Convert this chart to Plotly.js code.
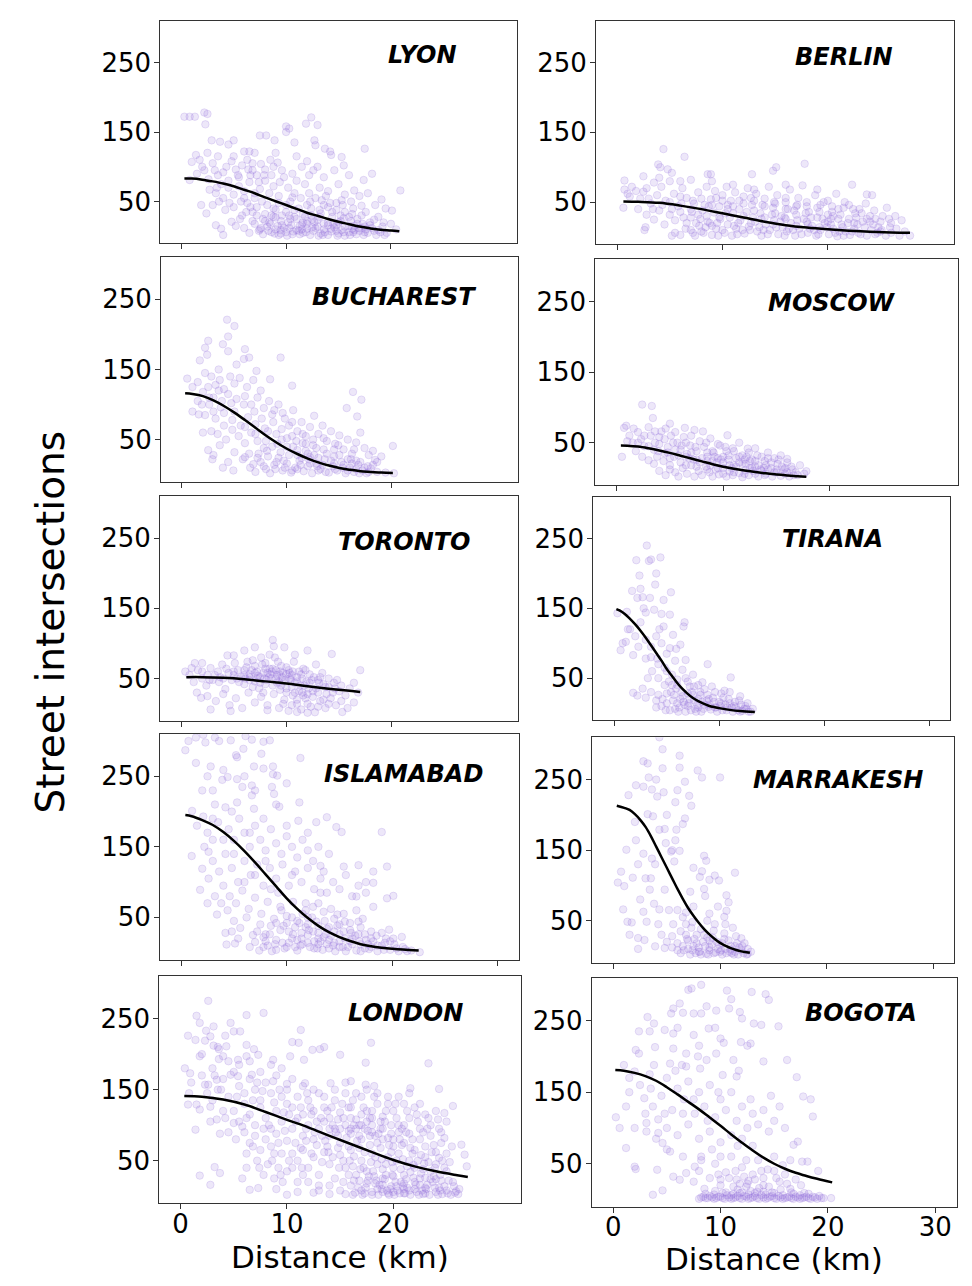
<!DOCTYPE html>
<html><head><meta charset="utf-8">
<script src="https://cdn.plot.ly/plotly-3.0.1.min.js"></script>
<style>html,body{margin:0;padding:0;background:#fff}#chart{width:972px;height:1286px}</style>
</head><body><div id="chart"></div>
<script>
// ---- data ----
const cityNames = ["LYON","BERLIN","BUCHAREST","MOSCOW","TORONTO","TIRANA","ISLAMABAD","MARRAKESH","LONDON","BOGOTA"];
const yTicks = [50,150,250];
const xTicks3 = [0,10,20];
const xTicks4 = [0,10,20,30];

const lyonPts = [[0.3,172],[0.8,172],[1.3,172],[2.2,178],[2.5,176],[2.3,161],[2.9,138],[3.7,136],[4.5,132],[5,138],[6,122],[6.5,122],[7,120],[7.5,145],[8.1,145],[8.9,138],[10,158],[10,150],[10.3,155],[11.9,162],[12.4,171],[13,160],[10.8,135],[12.7,138],[12.8,131],[13.7,126],[14.2,122],[14.3,117],[15.3,114],[17.5,126],[18.2,90],[17.4,81],[19.1,53],[20.9,66],[20.1,37],[19.3,20],[20.5,10],
[1.9,45],[2.4,33],[3.3,16],[3.8,11],[4,2],[4.8,21],[0.8,81],[1,107],[1.4,117],[1.75,110],[2.2,95],[2.7,67],[3.3,62],
[1.5,90],[2,100],[3,105],[3.2,95],[3.5,88],[4,92],[4.3,100],[4.8,108],[5.2,96],[5.5,85],[5.8,102],[6.3,110],[6.8,95],[7.2,88],[7.6,104],[8,96],[8.5,110],[8.8,100],[9.2,106],[9.6,95],[3.8,75],[4.5,70],[5,60],[5.5,72],[6,65],[6.5,78],[7,55],[7.5,68],[8,80],[8.4,62],[8.8,72],[9.3,58],[9.8,85],[10.2,70],[10.6,90],[11,80],[11.5,100],[11.8,75],[12.2,88],[12.6,95],[13.2,70],[13.6,85],[14,65],[14.6,95],[15,75],[15.6,60],[16,88],[16.5,66],[17,58],[17.8,62],[18.5,45],[19.5,40],[3,45],[3.6,50],[4.2,38],[5,42],[5.8,30],[6.3,48],[6.8,35],[7.2,42],[7.8,25],[8.2,45],[8.6,30],[9,38],[9.5,22],[10,35],[10.4,50],[10.8,28],[11.2,40],[11.6,20],[12,45],[12.4,30],[12.8,55],[13.2,38],[13.6,18],[14,42],[14.4,28],[14.8,48],[15.2,22],[15.6,35],[16,15],[16.4,40],[16.8,25],[17.2,12],[17.6,35],[18,20],[18.4,8],[18.8,28],[19.2,14],[19.6,5],[20,18],
[6,12],[6.5,5],[7,18],[7.4,8],[7.8,3],[8.2,14],[8.6,6],[9,10],[9.3,2],[9.6,16],[10,6],[10.3,12],[10.6,3],[11,9],[11.3,15],[11.6,5],[12,11],[12.3,2],[12.6,8],[13,14],[13.3,4],[13.6,10],[14,2],[14.3,7],[14.6,13],[15,4],[15.3,9],[15.6,1],[16,6],[16.3,11],[16.7,3],[17,8],[17.4,2],[17.8,5],[18.2,12],[18.6,2],[19,6],[8,22],[9,27],[10.2,20],[11,25],[12,18],[13,24],[14,16],[15,20],[16.2,22],[17.3,18],
[5.2,15],[5.6,25],[6.2,35],[6.8,22],[7.2,30],[7.6,12],[8,32],[8.4,20],[8.8,40],[9.2,15],[9.6,30],[10,45],[10.4,25],[10.8,38],[11.2,8],[11.6,32],[12,22],[12.4,40],[12.8,12],[13.2,28],[13.6,45],[14,20],[14.4,35],[14.8,8],[15.2,30],[15.6,14],[16,28],[16.4,6],[16.8,18],[17.2,30],[17.6,10],[18,16],[18.4,24],[8.3,8],[8.9,4],[9.5,9],[10.1,1],[10.7,7],[11.3,3],[11.9,6],[12.5,13],[13.1,1],[13.7,6],[14.3,11],[14.9,1],[15.5,6],[16.1,2],[16.9,12],[17.5,6],[18.8,9],[19.4,2],[9.8,12],[11.5,17],[12.7,20],[14.8,16],[16.5,15],[4,55],[4.6,48],[5.4,88],[6.6,88],[7.4,78],[8.6,88],[9.4,78],[10.8,62],[11.4,55],[12.2,62],[13.4,52],[14.2,48],[15.4,45],[16.2,50],[17.2,44],[6,55],[7,62],[2.5,120],[3.5,115],[5,115],[6.8,105],[9,120],[11,115],[12,108],[13,100],[15.5,102],
[7.5,10],[8.5,18],[9.5,4],[10.5,16],[11.5,10],[12.5,24],[13.5,2],[14.5,18],[15.5,26],[16.5,9],[17.5,14],[8.8,28],[10.3,30],[11.8,28],[13.3,33],[14.8,38],[16.3,32],[9.3,48],[10.6,56],[12.3,50],[13.8,58],[15.3,52],[6.6,42],[7.7,50],[5.7,50],[4.5,80],[3.4,70],[2.6,82],[6.4,96],[7.9,88]];
const lyonFitX = [0.3,1,2,3,4,5,6,7,8,9,10,11,12,13,14,15,16,17,18,19,20,20.8];
const lyonFitY = [83,83,81.5,79,76,72,67,62,56,50.5,45,39.5,34,29.5,25,21,17.5,14,11.5,9.5,8.5,7.5];

const berlinPts = [[4.4,126],[6.4,115],[3.9,104],[4.1,100],[17.8,105],[15.1,100],[14.8,95],[12.8,90],[8.6,90],[8.9,90],[0.7,81],[2.5,87],[4.8,97],[5.2,92],[22.3,75],[23.7,61],[24.2,60],[26.4,30],[27.8,2],[2.6,10],[2.7,14],[5.2,2],[0.6,42],[0.7,68],[1.2,58],[1.4,72],
[1,62],[1.8,66],[2.2,55],[2.8,70],[3.2,48],[3.5,78],[3.8,60],[4.2,72],[4.6,52],[5,80],[5.4,62],[5.8,44],[6.2,70],[6.6,56],[7,82],[7.3,48],[7.7,64],[8.1,38],[8.5,72],[8.9,54],[9.3,66],[9.7,44],[10,60],[2,40],[2.8,32],[3.5,25],[4,38],[4.5,18],[5,32],[5.5,24],[6,36],[6.5,12],[7,28],[7.5,20],[8,8],[8.5,30],[9,16],
[10.4,72],[10.8,52],[11.2,64],[11.6,40],[12,58],[12.4,70],[12.8,46],[13.2,62],[13.6,34],[14,55],[14.4,72],[14.8,42],[15.2,60],[15.6,30],[16,50],[16.4,68],[16.8,38],[17.2,56],[17.6,74],[18,44],[18.4,28],[18.8,60],[19.2,36],[19.6,50],[20,22],[20.4,44],[20.8,62],[21.2,32],[21.6,50],[22,26],[22.4,40],[22.8,18],[23.2,34],[23.6,48],[24,22],[24.4,38],[24.8,14],[25.2,30],[25.6,42],[26,20],[26.5,12],[27,24],[27.3,8],
[5.5,6],[6,3],[6.6,20],[7,10],[7.4,2],[7.8,16],[8.2,6],[8.6,22],[9,3],[9.4,12],[9.8,26],[10.2,6],[10.5,18],[10.9,2],[11.3,12],[11.7,24],[12.1,5],[12.5,15],[12.9,28],[13.3,8],[13.7,2],[14.1,18],[14.5,10],[14.9,24],[15.3,4],[15.7,14],[16.1,8],[16.5,20],[16.9,2],[17.3,12],[17.7,26],[18.1,6],[18.5,16],[18.9,2],[19.3,10],[19.7,20],[20.1,4],[20.5,12],[20.9,1],[21.3,18],[21.7,8],[22.1,3],[22.5,12],[22.9,6],[23.3,22],[23.7,2],[24.1,10],[24.5,4],[25,8],[25.5,2],[26,6],[26.8,2],[11,34],[12,30],[13,38],[14,28],[15,34],[16,26],[17,32],[18,22],[19,28],[20,32],[21,26],[10.5,40],[9.2,35],[16.2,40],
[5,50],[6,58],[7,40],[8,55],[9,46],[10,52],[11,44],[12,48],[13,52],[14,44],[15,48],[16,56],[17,44],[18,50],[19,42],[20,52],[21,40],[22,46],[23,40],[24,30],[25,22],[10.7,28],[11.5,20],[12.3,36],[13.1,22],[13.9,10],[14.7,32],[15.5,22],[16.3,12],[17.1,24],[17.9,34],[18.7,10],[19.5,26],[20.3,18],[21.1,8],[21.9,20],[22.7,28],[23.5,14],[24.3,18],[25.1,10],[25.9,14],[6.3,28],[7.1,36],[7.9,26],[8.7,44],[9.5,20],[10.3,34],[11.1,16],[11.9,10],[12.7,20],[13.5,14],[14.3,4],[15.1,14],[15.9,2],[16.7,10],[17.5,4],[18.3,12],[19.1,4],[19.9,14],[20.7,6],[21.5,2],[22.3,8],[23.1,4],[24.7,6],[10,10],[9.6,2],[8.4,14],[7.2,6],[3,55],[2.5,65],[4,85],[6,80],[9,80],[11,75],[13,68],[16,75],[19,68],[20.5,30],
[3.4,40],[4.3,46],[5.2,40],[6.1,48],[7.2,52],[8.3,46],[9.4,56],[10.5,46],[11.6,52],[12.7,56],[13.8,46],[14.9,50],[16,40],[17.1,46],[18.2,36],[19.3,46],[20.4,36],[21.5,42],[22.6,34],[23.7,26],[11.4,4],[12.6,10],[13.7,26],[14.8,18],[15.9,28],[17,16],[18.1,18],[19.2,14],[20.3,26],[21.4,14],[22.5,20],[9.7,28],[8.8,20],[7.7,32],[24.5,26],[25.8,26]];
const berlinFitX = [0.6,2,4,6,8,10,12,14,16,18,20,22,24,26,27.8];
const berlinFitY = [51,50.5,49,45,40,34,28,22,17,13.5,11,9,7.5,6.5,6];

const bucharestPts = [[4.3,221],[5,212],[4.4,197],[2.5,191],[2.2,181],[2.4,171],[1.7,163],[3.9,186],[4.4,176],[6,179],[5.9,165],[6.4,167],[5.2,157],[7.1,148],[9.4,167],[3.5,150],[2.2,145],[0.5,137],[8.4,136],[10.5,127],[16.3,118],[17.1,107],[15.7,95],[16.7,83],[20.1,41],[18.4,21],
[1,125],[1.5,132],[2,118],[2.8,140],[3.2,128],[3.6,135],[4,122],[4.6,140],[5,130],[5.5,138],[6.2,125],[6.8,135],[7.5,120],[3,110],[3.8,105],[4.4,115],[5.2,108],[6,112],[6.6,100],[7.2,110],[7.8,95],[8.3,105],[8.8,92],[9.2,100],[9.6,88],[1,90],[1.6,86],[2.2,85],[2.6,100],[3.2,80],[4,88],[4.8,78],[5.6,70],[6.3,82],[7,72],[7.6,80],[8.2,62],[8.7,75],[2.8,62],[3.4,58],[4.2,50],[4.8,64],[5.4,55],[6,45],[6.6,60],[7.2,48],[7.8,38],[2.5,35],[3,28],[3.6,42],[4.4,18],[5,32],[5.8,22],[6.4,30],[3.9,10],[4.9,6],[2.9,22],
[9.8,80],[10.2,70],[10.6,92],[11,62],[11.4,75],[11.8,55],[12.2,68],[12.6,84],[13,58],[13.4,70],[13.8,48],[14.2,62],[14.6,44],[15,56],[15.4,36],[15.8,50],[16.2,30],[16.6,46],[17,60],[17.4,38],[17.8,28],[18.2,34],[18.6,18],[19,26],[9.5,50],[10,40],[10.5,55],[11,35],[11.5,45],[12,30],[12.5,42],[13,24],[13.5,36],
[6.5,10],[7,4],[7.5,18],[8,8],[8.4,2],[8.8,14],[9.2,24],[9.6,6],[10,16],[10.4,3],[10.8,10],[11.2,20],[11.6,5],[12,12],[12.4,2],[12.8,16],[13.2,8],[13.6,22],[14,3],[14.4,12],[14.8,6],[15.2,18],[15.6,2],[16,10],[16.4,4],[16.8,14],[17.2,6],[17.6,2],[18,9],[18.6,4],[19.4,3],[20.2,2],[11,28],[12.2,25],[14.5,26],[15.8,22],[16.6,20],
[6,25],[6.8,15],[7.3,30],[7.8,12],[8.2,26],[8.6,40],[9,18],[9.4,32],[9.8,10],[10.2,28],[10.6,40],[11,8],[11.4,24],[11.8,34],[12.2,16],[12.6,28],[13,6],[13.4,14],[13.8,30],[14.2,20],[14.6,8],[15,28],[15.4,14],[15.8,6],[16.2,16],[16.6,8],[17,18],[17.4,10],[17.8,4],[18.2,14],[9.5,65],[10.5,75],[11.5,58],[12.5,50],[13.5,52],[14.5,36],[8,48],[9,58],[10,52],[11.8,44],[7,58],[6,68],[5,90],[4,70],[3,90],[2,60],[1.5,105],[2.5,125],[3.5,120],
[7.2,24],[8.1,34],[8.9,8],[9.7,20],[10.5,6],[11.3,14],[12.1,22],[12.9,12],[13.7,4],[14.5,16],[15.3,10],[16.1,22],[16.9,2],[17.7,12],[10.9,48],[12.8,38],[14.9,42],[16.4,36],[9.1,44],[7.9,66],[8.6,86],[6.9,90],[5.9,100],[4.7,102],[3.7,96],[2.6,110],[1.9,100]];
const bucharestFitX = [0.3,1,2,3,4,5,6,7,8,9,10,11,12,13,14,15,16,17,18,19,20.1];
const bucharestFitY = [116,115,112,106,98,88.5,78,67,56,46,37,29.5,23,17.5,13,9.5,7,5,4,3,2.5];

const moscowPts = [[2.4,104],[3.3,102],[3.4,85],[5,77],[6.4,71],[8.1,66],[7.3,68],[10.4,60.5],[12.3,41.6],[16,27],[17.8,9.5],[0.5,30],[0.7,71],[0.9,74],
[1.2,60],[1.5,50],[2,65],[2.3,55],[2.6,45],[3,72],[3.2,60],[3.6,50],[3.9,38],[4.2,66],[4.5,55],[4.8,44],[5.1,60],[5.4,30],[5.7,50],[6,40],[6.3,58],[6.6,34],[6.9,46],[7.2,26],[7.5,38],[7.8,52],[1.8,38],[2.4,30],[3,25],[3.5,20],[4,10],[4.4,24],[5,18],[5.5,8],
[8.2,44],[8.5,30],[8.8,56],[9.1,36],[9.4,22],[9.7,46],[10,30],[10.3,38],[10.6,18],[10.9,42],[11.2,28],[11.5,50],[11.8,32],[12.1,20],[12.4,36],[12.7,26],[13,42],[13.3,18],[13.6,30],[13.9,24],[14.2,36],[14.5,14],[14.8,28],[15.1,20],[15.4,32],[15.7,12],[16,22],[16.4,16],[16.8,8],[17.2,18],[17.6,6],
[4.6,4],[5,12],[5.8,2],[6.2,14],[6.6,6],[7,18],[7.3,2],[7.7,10],[8,4],[8.4,16],[8.7,8],[9,2],[9.3,12],[9.6,5],[10,14],[10.3,2],[10.6,9],[10.9,4],[11.2,16],[11.5,7],[11.8,1],[12.1,11],[12.4,4],[12.7,14],[13,6],[13.3,2],[13.6,10],[13.9,4],[14.2,12],[14.6,2],[15,8],[15.4,3],[15.8,6],[16.2,2],[8.5,24],[9.5,28],[10.5,26],[11.5,22],[12.5,24],
[3.5,40],[4,48],[4.5,35],[5,28],[5.5,40],[6,22],[6.5,30],[7,36],[7.5,16],[8,28],[8.5,36],[9,24],[9.5,14],[10,22],[10.5,32],[11,18],[11.5,30],[12,26],[12.5,14],[13,24],[13.5,12],[14,18],[14.5,22],[15,12],[15.5,16],[16,8],[16.5,12],[17,4],[6.5,18],[7.5,26],[8.5,12],[9,38],[10,6],[11,8],[12,6],[13,16],[14,6],[3,45],[4,58],[5.5,65],[6.5,50],[7,60],[2,50],[1,52],[9.5,48],[11,38],
[3.8,30],[4.8,36],[5.8,32],[6.8,28],[7.8,22],[8.8,18],[9.8,26],[10.8,14],[11.8,20],[12.8,10],[13.8,14],[14.8,8],[15.8,14],[16.6,4],[5.3,50],[6.1,46],[7.4,44],[8.4,50],[9.2,30],[10.2,44],[12.2,30],[13.2,32],[2.6,60],[3.6,66],[4.6,70],[1.6,70],[15.2,26],[14.2,28]];
const moscowFitX = [0.4,1,2,3,4,5,6,7,8,9,10,11,12,13,14,15,16,17,17.8];
const moscowFitY = [46,45.8,44.5,42,39,35.5,31.5,27.5,23.5,19.5,16,13,10.5,8.3,6.5,5,3.6,2.4,1.8];

const torontoPts = [[8.7,105],[8.8,96],[9.8,94.5],[7,94.5],[6,90],[4.4,83],[5,83],[12,90],[14.3,85],[17,62],[2,72],[1.3,72],[0.4,60],[1.9,22.6],[2.8,6],[4.7,3.8],[8.2,5],[11,2.4],[12,1.4],[15.3,2.4],
[0.8,55],[1.2,45],[1.6,62],[2,50],[2.4,40],[2.8,65],[3.2,55],[3.6,45],[3.9,70],[4.2,35],[4.5,58],[4.8,48],[5.1,72],[5.4,62],[5.7,52],[6,42],[6.2,66],[6.5,56],[6.8,76],[7,46],[7.2,60],[7.5,52],[7.7,70],[8,42],[8.2,58],[8.4,64],[8.6,50],[8.9,80],[9.1,55],[9.3,45],[9.5,68],[9.7,58],[10,36],[10.2,62],[10.4,48],[10.7,74],[11,52],[11.3,40],[11.6,64],[11.9,46],[12.2,56],[12.5,32],[12.8,70],[13.1,44],[13.4,58],[13.7,38],[14,50],[14.4,30],[14.8,48],[15.2,40],[15.6,26],[16,36],[16.4,44],[16.8,30],[6.5,48],[7.3,54],[7.9,50],[8.5,56],[9,50],[9.6,52],[10.5,55],[6,55],[5,55],[11.5,50],
[1.5,30],[2.5,25],[3.3,18],[4,28],[4.6,12],[5.2,22],[5.8,8],[6.4,30],[7,16],[7.6,24],[8.2,12],[8.8,28],[9.3,8],[9.8,20],[10.2,4],[10.6,26],[11,14],[11.4,6],[11.8,22],[12.3,10],[12.7,2],[13.2,18],[13.7,8],[14.2,22],[14.7,12],[15.2,18],[15.8,8],[16.4,16],[10,30],[9.4,34],[11.2,32],[12,28],[13,30],
[5,60],[5.5,45],[6,62],[6.5,52],[7,58],[7.5,44],[8,64],[8.3,52],[8.6,60],[9,62],[9.3,56],[9.6,46],[10,56],[10.3,50],[10.6,60],[11,46],[11.4,56],[11.8,62],[12.2,44],[12.6,52],[13,48],[13.5,42],[14,38],[14.5,44],[15,32],[4,50],[3.5,60],[3,48],[2.5,55],[2,60],[1,65],[8,72],[9.2,74],[10,66],[7,68],[6.3,74],[9.5,40],[10.5,38],[11.5,30],[12.5,24],[13.5,20],[11,20],[12,14],[13,10],[14,14],[10.5,12],[9.7,14],[12.8,36],[8.7,40],[7.4,36],
[5.3,50],[6.1,50],[6.7,62],[7.2,50],[7.8,58],[8.1,48],[8.7,64],[9.1,44],[9.4,60],[9.9,48],[10.3,58],[10.8,44],[11.2,60],[11.7,40],[12.4,48],[13.2,52],[4.3,64],[3.7,52],[2.7,48],[6.8,38],[7.8,30],[10.8,30],[11.6,26],[12.1,36],[13.8,28],[14.6,36],[8.4,84],[7.6,80],[10.8,84]];
const torontoFitX = [0.5,2,4,6,8,10,12,14,16,17];
const torontoFitY = [52,52,51,49,46,43,39,35.5,32.5,31];

const tiranaPts = [[3.1,240],[3.3,218],[3.5,220],[4.4,223],[4,200],[2.1,219],[2.4,197],[1.7,175],[2.5,178],[2.2,165],[2.7,166],[3.4,165],[3.9,184],[5.4,173],[4.7,162],[3,144],[3.8,148],[4.5,142],[5.3,141],[4.7,124],[5.6,112],[6.7,130],[6.6,124],[6.3,98],[5.3,93],[5.9,92],[6.8,76],[4.1,78],[3,78],[1.8,83],[1.1,102],[0.8,100],[0.6,90],[0.3,143],[1.2,145],[8.9,70],[11.1,51],[1.8,29],[2.7,35],
[1.5,120],[2,110],[2.5,130],[3,105],[3.5,95],[4,110],[4.5,100],[5,85],[3.6,60],[4.2,50],[4.8,65],[5.5,55],[6,48],[6.5,62],[7,45],[7.5,55],[8,40],[2.2,25],[3,22],[3.5,30],[4,18],
[4.5,10],[5,28],[5.3,4],[5.6,18],[5.9,35],[6.2,8],[6.5,24],[6.8,2],[7.1,14],[7.4,30],[7.7,6],[8,20],[8.3,2],[8.6,12],[8.9,26],[9.2,5],[9.5,16],[9.8,2],[10.1,10],[10.4,22],[10.7,4],[11,14],[11.3,2],[11.6,8],[11.9,18],[12.2,3],[12.5,10],[12.8,2],[13.2,6],[6,14],[7,10],[8,8],[9,9],[7.6,38],[8.6,34],[9.6,30],[10.5,32],[12,24],[4.8,40],[5.2,45],
[4,8],[4.6,20],[5,14],[5.4,30],[5.8,6],[6.3,20],[6.7,12],[7,28],[7.3,4],[7.6,18],[7.9,12],[8.2,26],[8.5,6],[8.8,18],[9.1,12],[9.4,22],[9.7,8],[10,16],[10.3,4],[10.6,12],[10.9,20],[11.2,8],[11.5,16],[11.8,4],[12.1,12],[12.4,6],[12.7,14],[13,2],[6,40],[6.8,50],[7.5,26],[8.4,44],[9.3,38],[10.2,28],[11,30],[5,60],[4.2,70],[3.2,50],
[4.2,26],[4.9,4],[5.7,26],[6.1,2],[6.6,16],[7.2,20],[7.8,2],[8.4,16],[9,20],[9.6,8],[10.2,14],[10.8,8],[11.4,10],[12,2],[12.6,6],[5.5,40],[6.4,30],[7.2,38],[8.2,30],[3.5,80],[2.3,95],[1.3,120],[2.8,150],[4.3,120],[5.8,75]];
const tiranaFitX = [0.2,0.5,1,1.5,2,2.5,3,3.5,4,4.5,5,5.5,6,6.5,7,7.5,8,8.5,9,9.5,10,11,12,13.4];
const tiranaFitY = [149,147,142,135,127,118,108,97,86,75,63,53,43,34.5,27.5,21.5,17,13.5,10.5,8.5,7,4.5,2.8,1.5];

const islamabadPts = [[0.4,287],[0.7,300],[1.4,305],[2.1,309],[2.3,298],[3.2,305],[3.6,300],[4.7,301],[6.1,307],[6.7,302],[7.8,299],[8.4,301],[5.3,277],[5.9,289],[7.6,282],[11.3,276],[1.4,269],[2.8,264],[6.9,264],[7.8,261],[8.7,264],[8.7,253],[9.1,251],[4,259],[3.9,245],[4.4,249],[5.3,246],[6.7,237],[8.6,235],[8.8,225],[5.8,235],[6.7,223],[6.9,204],[1.04,201],[2.1,193],[3.2,210],[4.2,206],[5.3,213],[9.3,207],[11.2,213],[7.8,190],[11.1,187],[12.8,185],[13.8,192],[14.7,178],[15.2,171],[19,171],[1,137],[2.6,143],[2,119],[2.6,105],[1.8,89],[2.5,70],[3.4,54],[4.2,28],[4.3,11.5],[5.1,13],[13.2,123],[15.4,122],[16.8,124],[18.2,115],[19.5,122],[17.5,100],[18.2,99],[16.6,79.6],[19.5,77],[20.1,80.5],[18.2,65],[19.7,32.6],[20.9,22.3],[22.6,0.7],[21.4,2.1],
[1.5,180],[2.5,170],[3,160],[3.5,185],[4.5,175],[5,160],[5.5,190],[6,170],[6.5,150],[7,180],[7.5,160],[8,145],[8.5,175],[9,155],[9.5,140],[10,165],[10.5,150],[11,135],[11.5,160],[12,145],[12.5,130],[13,150],[13.5,115],[14,140],[2.2,150],[3,130],[3.6,115],[4.2,140],[4.8,120],[5.4,100],[6,130],[6.6,110],[7.2,125],[7.8,95],[8.4,120],[9,105],[9.6,125],[10.2,95],[10.8,115],[11.4,100],[12,120],[12.6,90],[13.2,105],[13.8,85],[14.4,100],[15,90],[15.6,110],[16.2,80],[16.8,95],[17.5,85],[4,95],[4.6,80],[5.2,70],[5.8,88],[6.4,62],[7,78],[7.6,55],[8.2,72],[8.8,48],[9.4,65],[10,52],[10.6,72],[11.2,42],[11.8,60],[12.4,50],[13,70],[13.6,45],[14.2,62],[14.8,38],[15.4,55],[16,42],[16.6,60],[17.2,48],[3.2,80],[3.8,70],[4.4,60],[5,45],[5.6,35],[6.2,50],[6.8,25],[4.8,30],[5.4,20],
[6.5,8],[7,15],[7.4,3],[7.8,22],[8.2,10],[8.6,2],[9,18],[9.4,32],[9.8,6],[10.2,14],[10.6,26],[11,3],[11.4,20],[11.8,36],[12.2,8],[12.6,16],[13,28],[13.4,4],[13.8,12],[14.2,24],[14.6,2],[15,16],[15.4,30],[15.8,8],[16.2,20],[16.6,3],[17,12],[17.4,26],[17.8,5],[18.2,16],[18.6,2],[19,10],[19.4,20],[19.8,4],[20.2,12],[20.6,2],[21,8],[21.8,3],[7.5,40],[8.5,38],[10,42],[11,45],[12,40],[13,38],[14,36],[15,40],[16,32],[17,36],[18,30],[19,28],[13,20],[14,18],[12,25],[11.5,12],
[7.2,30],[7.8,8],[8.4,26],[9,42],[9.6,14],[10.2,30],[10.8,8],[11.4,28],[12,50],[12.6,6],[13.2,16],[13.8,34],[14.4,10],[15,26],[15.6,2],[16.2,12],[16.8,26],[17.4,6],[18,20],[18.6,10],[19.2,4],[19.8,16],[20.4,6],[11,18],[12,14],[13,12],[14,6],[15,8],[16,16],[17,2],[18,8],[10,8],[9,4],[8,16],[12.5,30],[13.5,22],[14.5,30],[15.5,20],[16.5,24],[17.5,18],[10.5,50],[11.5,55],[12.5,65],[13.5,58],[14.5,48],[15.5,44],[9.5,60],[8.5,90],[7,110],[6,100],[5,140],[4,160],[3,190],[10,180],[12,170],[9,210],[7,230],[3,230],[2.5,250],[6,250],
[8,26],[8.9,12],[9.7,38],[10.5,20],[11.3,10],[12.1,32],[12.9,6],[13.7,26],[14.5,14],[15.3,8],[16.1,28],[16.9,16],[17.7,12],[18.5,24],[19.3,14],[20.1,20],[21.2,5],[10.8,36],[12.8,44],[14.8,54],[16.8,44],[11.8,70],[13.2,85],[9.2,85],[10.5,110],[8,130],[6.5,170],[4.8,200],[2,230],[5.2,280],[10,240]];
const islamabadFitX = [0.4,1,2,3,4,5,6,7,8,9,10,11,12,13,14,15,16,17,18,19,20,21,22.5];
const islamabadFitY = [195,193.5,188,181,171,158.5,144,128,111,94,77,62,49,38,29,22,16.5,12,9,7,5.5,4.3,3];

const marrakeshPts = [[4.3,310],[4.6,293],[6.2,284],[2.8,276],[3.2,273],[4.6,266],[6.2,267],[7.9,263],[8.3,253],[10,253],[6.7,247],[3.3,253],[2.1,242],[2.8,240],[3.6,236],[4.7,232],[4.1,226],[1.4,228],[7.1,227],[5.8,218],[7.3,213],[3.2,201],[3.7,198],[6.7,195],[6.5,187],[4.3,179],[4.8,180],[5.9,179],[2.1,164],[5.8,164],[4.9,160],[1.2,150.6],[2.8,145],[3.6,138],[3.9,130],[5.7,134],[5.4,148],[6.2,149],[8.5,142],[8.7,135],[7.5,125],[8.3,120],[9.5,114],[11.4,118],[9.9,107],[9,108],[8.1,112],[0.7,119.5],[0.4,104],[1,99],[1.8,111],[3.4,94],[4.8,94],[7.2,91],[8.5,95],[8.6,85],[10.6,86],[10.8,76],[10.6,64],[10.4,55.5],[0.9,66],[1.3,48.5],[1.7,47.5],[3.1,48.5],[2.8,62.6],[3.8,74],[4.3,66],[5.2,65],[6,65],[6.8,61.6],[5.6,45],[1.5,30],[2.3,25.4],[2.9,22.6],[2.3,10],[3.9,13.6],[4.8,11.3],
[5.5,28],[6,18],[6.3,35],[6.6,8],[6.9,24],[7.2,2],[7.5,14],[7.8,30],[8.1,6],[8.4,20],[8.7,3],[9,12],[9.3,26],[9.6,5],[9.9,16],[10.2,2],[10.5,10],[10.8,22],[11.1,4],[11.4,14],[11.7,2],[12,8],[12.3,18],[12.6,3],[12.9,6],[7,10],[8,12],[9,8],[10,6],[11,9],[7.3,40],[8.2,38],[9.4,36],[10.4,32],[11.5,28],[6.8,45],[8.8,50],[4.5,30],[5,20],
[6.5,14],[7,22],[7.4,8],[7.8,18],[8.2,2],[8.6,14],[9,22],[9.4,4],[9.8,10],[10.2,18],[10.6,4],[11,14],[11.4,6],[11.8,12],[12.2,4],[12.6,10],[7.7,4],[8.9,2],[10.1,8],[11.3,2],[6,8],[5.5,12],[6.5,55],[7.5,70],[8.5,30],[9.5,45],[10.5,45],[12,25],[3.5,110],[2,190],[5,200],[2.5,80],
[6.3,4],[6.8,30],[7.6,24],[8,6],[8.8,26],[9.2,16],[9.7,20],[10.4,24],[10.9,6],[11.6,18],[12.1,14],[12.5,2],[7.4,48],[9,60],[9.8,70],[11.2,40],[4.2,45],[3,110],[5.5,150],[4,250],[6,235],[2.3,130]];
const marrakeshFitX = [0.3,1,1.5,2,2.5,3,3.5,4,4.5,5,5.5,6,6.5,7,7.5,8,8.5,9,9.5,10,10.5,11,11.5,12,12.8];
const marrakeshFitY = [213,210,207,201,193,183,170,155,140,125,110,95,81,68,57,47,38,30.5,24,18.5,14.5,11,8.5,6.5,4.5];

const londonPts = [[2.6,275],[1.5,254],[1.8,244],[2.4,233],[3.1,239],[4.7,244],[5,232],[4.2,226],[5.6,232],[0.7,226],[1.4,220],[2.3,219],[3.1,212],[3.6,207],[4.3,211],[6.2,213],[6.9,207],[7.8,258],[6.2,255],[11.3,234],[10.5,217],[11.1,216],[13.5,210],[12.4,206],[13.1,207],[15,199],[17.9,216],[1.8,197],[3.6,193],[4,197],[5.4,192],[6.2,197],[7.3,199],[8.7,192],[10.3,197],[11.6,192],[23.3,187],[17.4,188],[0.4,180],[0.9,173],[2.3,157],[2.6,157],[3.4,164],[4.7,171],[5.4,169],[6.7,171],[8.7,162],[10,158],[11.7,159],[14.1,159],[16,162],[18.2,155],[21.6,152],[24.3,151],[17.4,157],[0.7,129],[1.5,129],[1.8,122],[2.8,126],[1.4,93.7],[2.8,105],[3.4,108],[3.7,88],[4.2,110],[5,103],[3.2,41],[3.7,32.6],[1.8,29],[2.8,16],[6.5,9],[7.3,11.5],[25.6,127],[24.8,117],[26.4,72.5],[26.7,58.5],[26.9,42],[25.9,7],
[2,170],[2.5,145],[3,180],[3.5,150],[4,165],[4.5,140],[5,175],[5.5,155],[6,145],[6.5,165],[7,150],[7.5,135],[8,160],[8.5,145],[9,170],[9.5,140],[10,150],[5,120],[5.5,105],[6,130],[6.5,115],[7,100],[7.5,125],[8,110],[8.5,95],[9,120],[9.5,105],[10,130],[6,90],[6.5,75],[7,85],[7.5,65],[8,80],[8.5,70],[9,88],[9.5,60],[10,78],[4.5,90],[5.2,80],[6.2,60],[7.2,50],[8.2,45],[9.2,40],[7.8,30],[8.8,25],[9.6,20],[10,35],
[10.5,125],[11,140],[11.5,115],[12,135],[12.5,120],[13,145],[13.5,125],[14,110],[14.5,135],[15,118],[15.5,145],[16,125],[16.5,108],[17,140],[17.5,120],[18,100],[18.5,130],[19,112],[19.5,140],[20,120],[20.5,100],[21,130],[21.5,110],[22,125],[22.5,95],[23,115],[23.5,100],[24,120],[24.5,90],[25,105],[10.5,95],[11,110],[11.5,85],[12,100],[12.5,80],[13,95],[13.5,105],[14,85],[14.5,95],[15,75],[15.5,100],[16,88],[16.5,95],[17,80],[17.5,105],[18,90],[18.5,75],[19,95],[19.5,82],[20,70],[20.5,90],[21,75],[21.5,88],[22,65],[22.5,80],[23,70],[23.5,85],[24,62],[24.5,75],[25,60],[25.5,70],[16,110],[17,115],[18,120],[16.8,100],[17.8,85],[18.8,105],[15.8,92],[14.8,108],[19.8,100],
[10.5,60],[11,50],[11.5,65],[12,40],[12.5,55],[13,30],[13.5,62],[14,45],[14.5,25],[15,58],[15.5,40],[16,65],[16.5,30],[17,50],[17.5,35],[18,60],[18.5,45],[19,25],[19.5,55],[20,40],[20.5,60],[21,30],[21.5,50],[22,40],[22.5,25],[23,55],[23.5,35],[24,45],[24.5,22],[25,35],[12,20],[14,15],
[15,8],[15.5,3],[16,15],[16.4,5],[16.8,22],[17.1,2],[17.4,12],[17.7,28],[18,6],[18.3,18],[18.6,2],[18.9,10],[19.2,24],[19.5,4],[19.8,14],[20.1,2],[20.4,8],[20.7,20],[21,4],[21.3,12],[21.6,2],[21.9,26],[22.2,6],[22.5,16],[22.8,3],[23.1,10],[23.4,2],[23.7,20],[24,6],[24.3,12],[24.6,3],[25,8],[25.4,2],[25.8,5],[26.2,10],[17.5,18],[19,16],[20,28],[21,18],[22,10],[23,26],[13,8],[14,3],[12.5,5],[11,6],[9,10],[10,2],
[10.2,115],[10.8,105],[11.3,125],[11.8,95],[12.3,115],[12.8,105],[13.3,85],[13.8,120],[14.3,100],[14.8,85],[15.3,110],[15.8,125],[16.3,100],[16.8,85],[17.3,95],[17.8,110],[18.3,85],[18.8,95],[19.3,120],[19.8,88],[20.3,110],[20.8,95],[21.3,120],[21.8,80],[22.3,105],[22.8,90],[23.3,110],[23.8,72],[24.3,95],[24.8,82],[10.8,75],[11.3,68],[11.8,78],[12.3,60],[12.8,72],[13.3,48],[13.8,70],[14.3,55],[14.8,68],[15.3,50],[15.8,70],[16.3,56],[16.8,68],[17.3,62],[17.8,72],[18.3,55],[18.8,68],[19.3,45],[19.8,62],[20.3,50],[20.8,72],[21.3,42],[21.8,60],[22.3,50],[22.8,38],[23.3,48],[23.8,28],[24.3,54],[24.8,40],[25.3,48],[15.3,20],[15.8,30],[16.2,42],[16.7,12],[17.2,40],[17.6,22],[18.1,35],[18.5,10],[19,38],[19.4,8],[19.9,30],[20.3,14],[20.7,38],[21.2,24],[21.6,34],[22.1,16],[22.6,32],[23,4],[23.5,24],[23.9,12],[24.4,30],[24.8,14],[25.2,22],[25.7,14],[26.1,3],[16.2,2],[17,8],[18,2],[18.7,16],[19.6,2],[20.6,4],[21.5,8],[22.4,2],[23.2,16],[24.2,2],[20,6],[21,10],[19,6],[18.2,28],[13.5,140],[14.5,150],[15.5,160],[16.5,145],[17.5,150],[18.5,145],[19.5,130],[20.5,140],[21.5,145],[22.5,130],[12.5,150],[11.5,155],[10.5,165],[9.5,180],[8.5,185],[7.5,175],[6.5,190],[5.5,185],[4.5,190],[3.5,210],[2.8,225],[2,200],[1,160],[0.8,145],[3,135],[4,120],[3.8,150],[6.8,135],[7.7,148],[8.8,132],[9.7,118],[5.8,98],[6.8,70],[7.8,95],[8.8,60],[9.8,92],[7.4,40],[8.6,50],[9.4,30],[10.5,40],[11.5,30],[6.2,40],[5.8,25],[11,20],[13,15],[16,95],[17,100],[18,110],[19,80],[20,80],[21,100],[15,95],[14,95],
[12.2,125],[13.2,110],[14.2,125],[15.2,130],[16.2,135],[17.2,125],[18.2,140],[19.2,105],[20.2,130],[21.2,90],[22.2,115],[23.2,95],[24.2,108],[12.6,90],[13.6,78],[14.6,90],[15.6,82],[16.6,78],[17.6,92],[18.6,88],[19.6,72],[20.6,80],[21.6,68],[22.6,58],[23.6,62],[24.6,50],[13.9,62],[14.9,40],[15.9,50],[16.9,38],[17.9,48],[18.9,52],[19.9,48],[20.9,52],[21.9,44],[22.9,46],[23.9,40],[16.3,22],[17.3,4],[18.4,22],[19.3,30],[20.2,20],[21.1,4],[22,20],[23,12],[24,24],[25.1,4],[25.6,20],[19.7,10],[20.9,14],[22.7,8],[24.4,8],[11.9,145],[9.3,150],[7.2,160],[5.3,140],[3.2,170],[6.2,110],[8.3,100],[9.2,75],[10.2,50],[11.4,40]];
const londonFitX = [0.35,2,4,6,8,10,12,14,16,18,20,22,24,26,27];
const londonFitY = [141,140,136,129,118.5,107.5,97,85,73.5,62,51,42,35,29.5,27];

const bogotaPts = [[7.3,295],[8.2,300],[7,293],[10.6,292],[12.9,290],[14.2,287],[14.5,279],[6.2,274],[5.6,267],[5.4,260],[6.5,261],[7.5,260],[8.2,260],[9.6,264],[10.8,267],[8.7,270],[11.8,262],[12,253],[13.1,246],[13.8,244],[15.4,242],[3.2,255],[3.8,246],[2.4,235],[3.4,235],[4.8,237],[5.6,232],[7.5,230],[8.9,239],[10,225],[10.3,219],[11.9,220],[12.5,215],[12.8,218],[2.1,209],[2.4,204],[3.9,213],[5.6,211],[6.8,204],[7.9,200],[8.7,195],[9.6,204],[11.2,195],[14,193],[16.2,195],[1,188],[2,179],[1.5,170],[3.8,188],[5.3,190],[6.4,188],[6.8,186],[8.1,183],[10.2,174],[11.5,172],[17.1,171],[1.2,130],[0.25,115],[0.6,100],[1.2,72],[2,46],[2.1,42.6],[3.7,6.7],[4.6,12.8],[2.9,141.6],[3.7,130],[4.2,112],[3.1,107],[3.1,95],[4.2,93],[4.6,79],[5.3,67],[5,70],[4.1,41.6],[5.6,32],[6.2,27.7],[6.8,37],[7.6,46],[8.2,60],[17.7,144],[18.4,140],[18.6,116],[17.2,81],[16.8,76.5],[17.6,53],[18.1,53],[19.1,40],[20.3,2],[19.4,2],[17.8,9],
[8.2,3],[8.6,2],[9,5],[9.4,1],[9.8,4],[10.2,2],[10.6,6],[11,1],[11.4,3],[11.8,2],[12.2,5],[12.6,1],[13,3],[13.4,2],[13.8,6],[14.2,1],[14.6,4],[15,2],[15.4,5],[15.8,1],[16.2,3],[16.6,2],[17,4],[17.4,1],[17.8,3],[18.2,2],[18.6,4],[19,1],[19.6,2],[11.2,8],[12,10],[13.2,9],[14,11],[11.6,14],[12.4,18],
[7.5,25],[8,40],[8.5,15],[9,30],[9.5,50],[10,20],[10.5,38],[11,60],[11.5,28],[12,45],[12.5,22],[13,35],[13.5,55],[14,30],[14.5,18],[15,40],[15.5,25],[16,35],[16.5,15],[17,28],[15,60],[13,75],
[1.5,150],[2.5,160],[3.5,155],[4.5,145],[5,170],[5.5,125],[6,155],[6.5,120],[7,165],[7.5,140],[8,150],[8.5,130],[9,160],[9.5,115],[10,140],[10.5,125],[11,150],[11.5,110],[12,130],[12.5,100],[13,120],[13.5,105],[14,125],[14.5,95],[15,110],[15.5,130],[16,100],[2,100],[3,120],[4,85],[5,100],[6,90],[7,105],[8,85],[9,95],[10,80],[11,90],[12,85],[6.5,60],[8.2,55],[10,60],
[8,1],[8.4,4],[8.8,2],[9.2,3],[9.6,2],[10,4],[10.4,1],[10.8,3],[11.2,2],[11.6,5],[12,1],[12.4,4],[12.8,2],[13.2,5],[13.6,1],[14,3],[14.4,2],[14.8,5],[15.2,1],[15.6,3],[16,2],[16.4,4],[16.8,1],[17.2,3],[17.6,2],[18,4],[18.4,1],[18.8,3],[10.5,10],[11.8,22],[12.8,12],[13.6,16],[14.8,10],[15.6,14],[16.8,8],[9.5,12],[10.8,30],[12.2,32],[13.2,28],[14.4,42],[15.8,48],[16.5,55],[9.8,35],[11.4,40],
[8.6,8],[9.4,7],[10.2,9],[11,6],[11.8,9],[12.6,7],[13.4,11],[14.2,7],[15,9],[15.8,6],[16.6,10],[17.4,6],[18.2,8],[19.2,5],[10,28],[11.2,18],[12.6,26],[14,20],[15.2,30],[16.2,22],[17.5,20],[13.8,40],[12.4,55],[11.6,75],[9.2,70],[8.8,110],[7.6,120],[6.6,140],[9.8,150],[12.8,140],[14.7,145],[11.7,180],[4.8,120],[3.4,175],[5.8,180],[8,215],[6,240],[9.5,240],[11,280]];
const bogotaFitX = [0.2,1,2,3,4,5,6,7,8,9,10,11,12,13,14,15,16,17,18,19,20.4];
const bogotaFitY = [181,180,177,172.5,166,157,147,136.5,126,114.5,103,91,79.5,68.5,58.5,50,43,37.5,33,29,24];

// ---- layout geometry (pixels of the 972x1286 figure) ----
const W = 972, H = 1286;
const panels = [
  {pts: lyonPts, fx: lyonFitX, fy: lyonFitY, xt: xTicks3, box: [160.3,516.7,20.7,243.3], lab: [422,55]},
  {pts: berlinPts, fx: berlinFitX, fy: berlinFitY, xt: xTicks3, box: [596,954.3,20.7,244], lab: [843,57]},
  {pts: bucharestPts, fx: bucharestFitX, fy: bucharestFitY, xt: xTicks3, box: [161,517.7,257.3,481.7], lab: [394,297]},
  {pts: moscowPts, fx: moscowFitX, fy: moscowFitY, xt: xTicks3, box: [595.3,957.7,259.3,485], lab: [832,303]},
  {pts: torontoPts, fx: torontoFitX, fy: torontoFitY, xt: xTicks3, box: [160,518.3,496,720.7], lab: [404,541.5]},
  {pts: tiranaPts, fx: tiranaFitX, fy: tiranaFitY, xt: xTicks4, box: [593.3,950,496.7,720], lab: [832,539]},
  {pts: islamabadPts, fx: islamabadFitX, fy: islamabadFitY, xt: xTicks4, box: [160,519,734,959.7], lab: [403,774]},
  {pts: marrakeshPts, fx: marrakeshFitX, fy: marrakeshFitY, xt: xTicks4, box: [592.3,954.3,737.3,963], lab: [838,780]},
  {pts: londonPts, fx: londonFitX, fy: londonFitY, xt: xTicks3, box: [159.3,521,976,1203.3], lab: [405,1013.5]},
  {pts: bogotaPts, fx: bogotaFitX, fy: bogotaFitY, xt: xTicks4, box: [591.7,956.7,977.7,1206.7], lab: [861,1013.5]}
];

const traces = [];
const layout = {
  width: W, height: H,
  margin: {l:0, r:0, t:0, b:0},
  paper_bgcolor: '#fff', plot_bgcolor: '#fff',
  showlegend: false,
  font: {family: 'DejaVu Sans', color: '#000'},
  annotations: []
};
const tickFont = {family: 'DejaVu Sans', size: 26, color: '#000'};

panels.forEach((p, i) => {
  const n = i === 0 ? '' : String(i + 1);
  const xa = 'x' + n, ya = 'y' + n;
  traces.push({
    type: 'scatter', mode: 'markers', xaxis: xa, yaxis: ya,
    x: p.pts.map(d => d[0]), y: p.pts.map(d => d[1]),
    marker: {size: 7.5, color: 'rgba(147,112,219,0.17)', line: {color: 'rgba(147,112,219,0.2)', width: 1}},
    hoverinfo: 'skip'
  });
  traces.push({
    type: 'scatter', mode: 'lines', xaxis: xa, yaxis: ya,
    x: p.fx, y: p.fy,
    line: {color: '#000', width: 2.5, shape: 'spline', smoothing: 1},
    hoverinfo: 'skip'
  });
  const [l, r, t, b] = p.box;
  const bottomRow = i >= 8;
  layout['xaxis' + n] = {
    domain: [l / W, r / W], range: [-2, 32], anchor: ya,
    tickmode: 'array', tickvals: p.xt, ticktext: p.xt.map(String),
    showticklabels: bottomRow, ticks: 'outside', ticklen: 5, tickwidth: 1, tickcolor: '#333',
    ticklabelstandoff: -8,
    showline: true, mirror: true, linecolor: '#333', linewidth: 1,
    showgrid: false, zeroline: false, tickfont: tickFont
  };
  layout['yaxis' + n] = {
    domain: [1 - b / H, 1 - t / H], range: [-10, 310], anchor: xa,
    tickmode: 'array', tickvals: yTicks, ticktext: yTicks.map(String),
    ticks: 'outside', ticklen: 5, tickwidth: 1, tickcolor: '#333',
    ticklabelstandoff: -2,
    showline: true, mirror: true, linecolor: '#333', linewidth: 1,
    showgrid: false, zeroline: false, tickfont: tickFont
  };
  layout.annotations.push({
    xref: 'paper', yref: 'paper', x: p.lab[0] / W, y: 1 - p.lab[1] / H,
    xanchor: 'center', yanchor: 'middle', showarrow: false,
    text: cityNames[i],
    font: {family: 'DejaVu Sans', size: 24, weight: 'bold', style: 'italic', color: '#000'}
  });
});

layout.annotations.push({
  xref: 'paper', yref: 'paper', x: 340 / W, y: 1 - 1257 / H,
  xanchor: 'center', yanchor: 'middle', showarrow: false,
  text: 'Distance (km)', font: {family: 'DejaVu Sans', size: 31, color: '#000'}
});
layout.annotations.push({
  xref: 'paper', yref: 'paper', x: 774 / W, y: 1 - 1259 / H,
  xanchor: 'center', yanchor: 'middle', showarrow: false,
  text: 'Distance (km)', font: {family: 'DejaVu Sans', size: 31, color: '#000'}
});
layout.annotations.push({
  xref: 'paper', yref: 'paper', x: 50 / W, y: 1 - 622.5 / H,
  xanchor: 'center', yanchor: 'middle', showarrow: false, textangle: -90,
  text: 'Street intersections', font: {family: 'DejaVu Sans', size: 39, color: '#000'}
});

Plotly.newPlot('chart', traces, layout, {staticPlot: true, displayModeBar: false});
</script>
</body></html>
